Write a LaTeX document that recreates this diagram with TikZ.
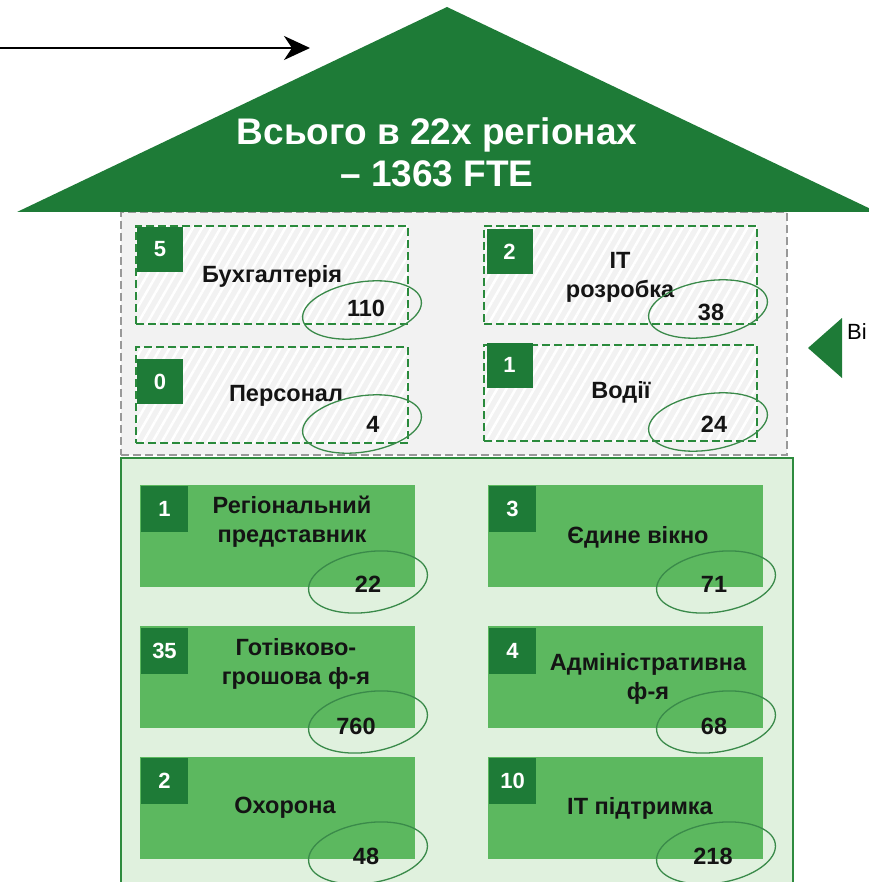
\documentclass[tikz,border=0pt]{standalone}
\usepackage{fontspec}
\setmainfont{Liberation Sans}
\usetikzlibrary{shapes.geometric,patterns.meta,arrows.meta}
\definecolor{dkgreen}{HTML}{1E7B37}
\definecolor{boxgreen}{HTML}{5CB85F}
\definecolor{regiongreen}{HTML}{E0F1DE}
\definecolor{regionborder}{HTML}{2E8B3E}
\definecolor{graybg}{HTML}{F2F2F2}
\definecolor{grayborder}{HTML}{999999}
\definecolor{dashgreen}{HTML}{2A8A3C}
\definecolor{ellgreen}{HTML}{3A8A4A}
\tikzset{
  upbox/.style={rectangle, inner sep=0pt, draw=dashgreen, line width=1.8pt,
    dash pattern=on 8pt off 4pt,
    pattern={Lines[angle=60,distance=8pt,line width=2.5pt]}, pattern color=white},
  lowbox/.style={rectangle, inner sep=0pt, fill=boxgreen, draw=none, minimum width=275pt, minimum height=102pt},
  badge/.style={rectangle, inner sep=0pt, fill=dkgreen, text=white,
    font=\bfseries\fontsize{22}{26}\selectfont, minimum width=46pt, minimum height=45pt},
  lbl/.style={font=\bfseries\fontsize{23.5}{29}\selectfont, align=center, inner sep=0pt, text=black!92},
  num/.style={font=\bfseries\fontsize{23.5}{27}\selectfont, inner sep=0pt, text=black!92},
  ring/.style={ellipse, draw=ellgreen, line width=1.3pt, minimum width=120pt, minimum height=56pt, rotate=9, inner sep=0pt},
}
\begin{document}
\begin{tikzpicture}[x=1pt,y=-1pt]
\useasboundingbox (0,0) rectangle (868,882);
% gray region
\node[rectangle, inner sep=0pt, fill=graybg, draw=grayborder, line width=1.8pt, dash pattern=on 8pt off 4pt,
  minimum width=666pt, minimum height=243pt] (grayreg) at (454,333.5) {};
% green region
\node[rectangle, inner sep=0pt, fill=regiongreen, draw=regionborder, line width=1.5pt,
  minimum width=672pt, minimum height=432pt] (greenreg) at (457,674) {};
% roof
\coordinate (rl) at (17,212);
\coordinate (rt) at (447,7);
\coordinate (rr) at (877,212);
\fill[dkgreen] (rl) -- (rt) -- (rr) -- cycle;
\node[font=\bfseries\fontsize{37}{42}\selectfont, text=white, align=center, inner sep=0pt] (title) at (437,152) {Всього в 22х регіонах\\– 1363 FTE};
% arrow
\coordinate (as) at (0,48);
\coordinate (ae) at (310,48);
\draw[line width=2.5pt, -{Stealth[length=26pt,width=24pt,inset=8pt]}] (as) -- (ae);
% right marker
\coordinate (ta) at (808,348);
\coordinate (tb) at (842,318);
\coordinate (tc) at (842,378);
\fill[dkgreen] (ta) -- (tb) -- (tc) -- cycle;
\node[anchor=west, font=\fontsize{22}{26}\selectfont, inner sep=0pt] (vi) at (847,332) {Ві};

% upper boxes
\node[upbox, minimum width=272pt, minimum height=98pt] (ub1) at (272,275) {};
\node[upbox, minimum width=272pt, minimum height=96pt] (ub2) at (272,395) {};
\node[upbox, minimum width=273pt, minimum height=98pt] (ub3) at (620.5,275) {};
\node[upbox, minimum width=273pt, minimum height=96pt] (ub4) at (620.5,393) {};
\node[badge] (bd1) at (160,249.5) {5};
\node[badge] (bd2) at (160,381.5) {0};
\node[badge] (bd3) at (509.5,251.5) {2};
\node[badge] (bd4) at (509.5,365) {1};
\node[lbl] (l1) at (272,276) {Бухгалтерія};
\node[lbl] (l2) at (286,396) {Персонал};
\node[lbl] (l3) at (620,277) {IT\\розробка};
\node[lbl] (l4) at (621,392) {Водії};
\node[ring] (e1) at (362,310) {};
\node[ring] (e2) at (362,424) {};
\node[ring] (e3) at (708,309) {};
\node[ring] (e4) at (708,422) {};
\node[num] (n1) at (366,308) {110};
\node[num] (n2) at (373,424) {4};
\node[num] (n3) at (711,312) {38};
\node[num] (n4) at (714,424) {24};

% lower boxes
\node[lowbox] (lb1) at (277.5,536) {};
\node[lowbox] (lb2) at (625.5,536) {};
\node[lowbox] (lb3) at (277.5,677) {};
\node[lowbox] (lb4) at (625.5,677) {};
\node[lowbox] (lb5) at (277.5,807.5) {};
\node[lowbox] (lb6) at (625.5,807.5) {};
\node[badge, minimum width=47pt, minimum height=46pt] (bd5) at (164.5,508.5) {1};
\node[badge, minimum width=47pt, minimum height=46pt] (bd6) at (512.5,508.5) {3};
\node[badge, minimum width=47pt, minimum height=46pt] (bd7) at (164.5,651) {35};
\node[badge, minimum width=47pt, minimum height=46pt] (bd8) at (512.5,651) {4};
\node[badge, minimum width=47pt, minimum height=46pt] (bd9) at (164.5,780.5) {2};
\node[badge, minimum width=47pt, minimum height=46pt] (bd10) at (512.5,780.5) {10};
\node[lbl] (l5) at (292,522) {Регіональний\\представник};
\node[lbl] (l6) at (638,537) {Єдине вікно};
\node[lbl] (l7) at (296,664) {Готівково-\\грошова ф-я};
\node[lbl] (l8) at (648,679) {Адміністративна\\ф-я};
\node[lbl] (l9) at (285,808) {Охорона};
\node[lbl] (l10) at (640,808) {IT підтримка};
\node[ring, minimum height=60pt] (e5) at (368,582) {};
\node[ring, minimum height=60pt] (e6) at (716,582) {};
\node[ring, minimum height=60pt] (e7) at (368,722) {};
\node[ring, minimum height=60pt] (e8) at (716,722) {};
\node[ring, minimum height=60pt] (e9) at (368,853) {};
\node[ring, minimum height=60pt] (e10) at (716,853) {};
\node[num] (n5) at (368,584) {22};
\node[num] (n6) at (714,584) {71};
\node[num] (n7) at (356,726) {760};
\node[num] (n8) at (714,726) {68};
\node[num] (n9) at (366,856) {48};
\node[num] (n10) at (713,856) {218};
\end{tikzpicture}
\end{document}
